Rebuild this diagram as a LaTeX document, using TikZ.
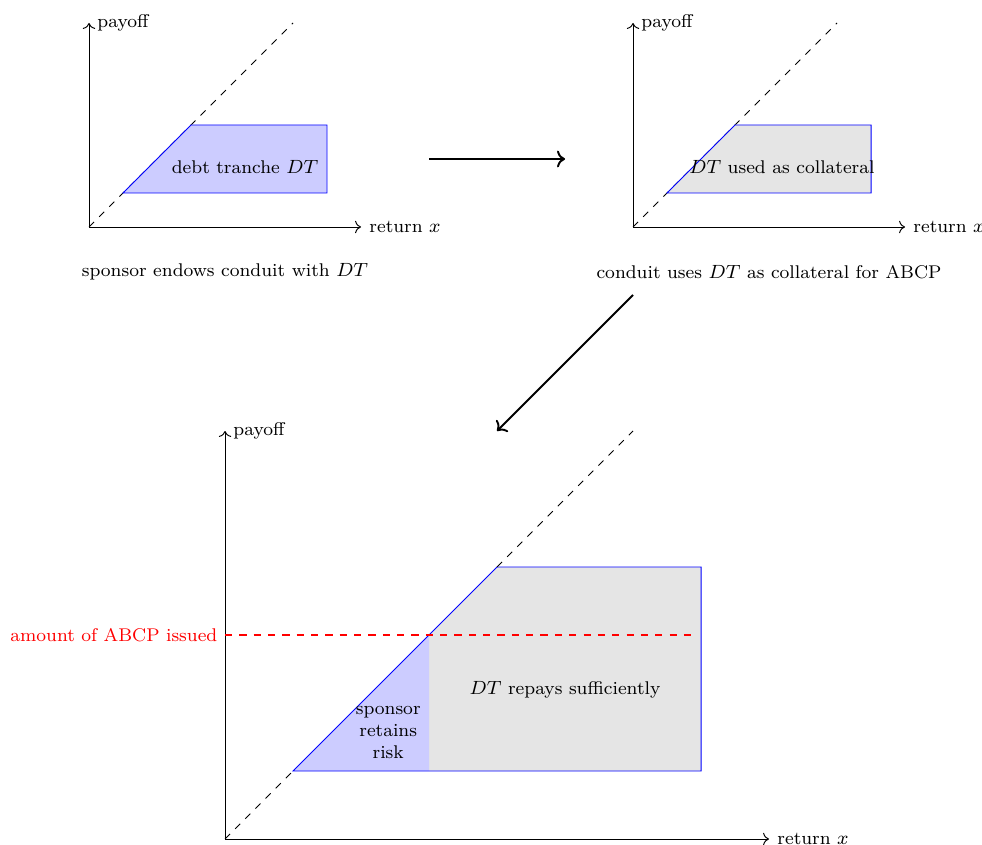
\documentclass[tikz,border=0pt]{standalone}
\usetikzlibrary{arrows.meta}
\begin{document}
\begin{tikzpicture}[font=\fontsize{7.7}{9.3}\selectfont,
  axis/.style={->},
  diag/.style={dashed},
  tranche/.style={draw=blue},
  flow/.style={->,thick}]
\useasboundingbox (-1.309,3.338) rectangle (13.132,-9.074);
% top-left panel
\begin{scope}[x=0.5cm,y=0.5cm]
  \coordinate (o1) at (0,0);
  \coordinate (x1) at (8,0);
  \coordinate (y1) at (0,6);
  \draw[axis] (o1) -- (x1) node[right] {return $x$};
  \draw[axis] (o1) -- (y1) node[right] {payoff};
  \draw[diag] (o1) -- (6,6);
  \filldraw[tranche,fill=blue!20] (1,1) -- (3,3) -- (7,3) -- (7,1) -- cycle;
  \node (t1) at (4.59,1.76) {debt tranche $DT$};
\end{scope}
\node (c1) at (2,-0.66) {sponsor endows conduit with $DT$};
% top-right panel
\begin{scope}[shift={(8,0)},x=0.5cm,y=0.5cm]
  \coordinate (o2) at (0,0);
  \coordinate (x2) at (8,0);
  \coordinate (y2) at (0,6);
  \draw[axis] (o2) -- (x2) node[right] {return $x$};
  \draw[axis] (o2) -- (y2) node[right] {payoff};
  \draw[diag] (o2) -- (6,6);
  \filldraw[tranche,fill=gray!20] (1,1) -- (3,3) -- (7,3) -- (7,1) -- cycle;
  \node (t2) at (4.38,1.76) {$DT$ used as collateral};
\end{scope}
\node (c2) at (10,-0.66) {conduit uses $DT$ as collateral for ABCP};
% arrows between panels
\coordinate (a1) at (5,1);
\coordinate (a2) at (7,1);
\draw[flow] (a1) -- (a2);
\coordinate (b1) at (8,-1);
\coordinate (b2) at (6,-3);
\draw[flow] (b1) -- (b2);
% bottom panel
\begin{scope}[shift={(2,-9)}]
  \coordinate (o3) at (0,0);
  \coordinate (x3) at (8,0);
  \coordinate (y3) at (0,6);
  \fill[gray!20] (3,1) -- (3,3) -- (4,4) -- (7,4) -- (7,1) -- cycle;
  \fill[blue!20] (1,1) -- (3,3) -- (3,1) -- cycle;
  \draw[blue] (1,1) -- (4,4) -- (7,4) -- (7,1) -- cycle;
  \draw[axis] (o3) -- (x3) node[right] {return $x$};
  \draw[axis] (o3) -- (y3) node[right] {payoff};
  \draw[diag] (o3) -- (1,1);
  \draw[diag] (4,4) -- (6,6);
  \coordinate (r0) at (0,3);
  \coordinate (r1) at (6.94,3);
  \draw[red,thick,dashed] (r0) -- (r1);
  \node[red,left,inner sep=3pt] (amt) at (r0) {amount of ABCP issued};
  \node (rep) at (5,2.2) {$DT$ repays sufficiently};
  \node[align=center] (ret) at (2.4,1.57) {sponsor\\retains\\risk};
\end{scope}
\end{tikzpicture}
\end{document}
